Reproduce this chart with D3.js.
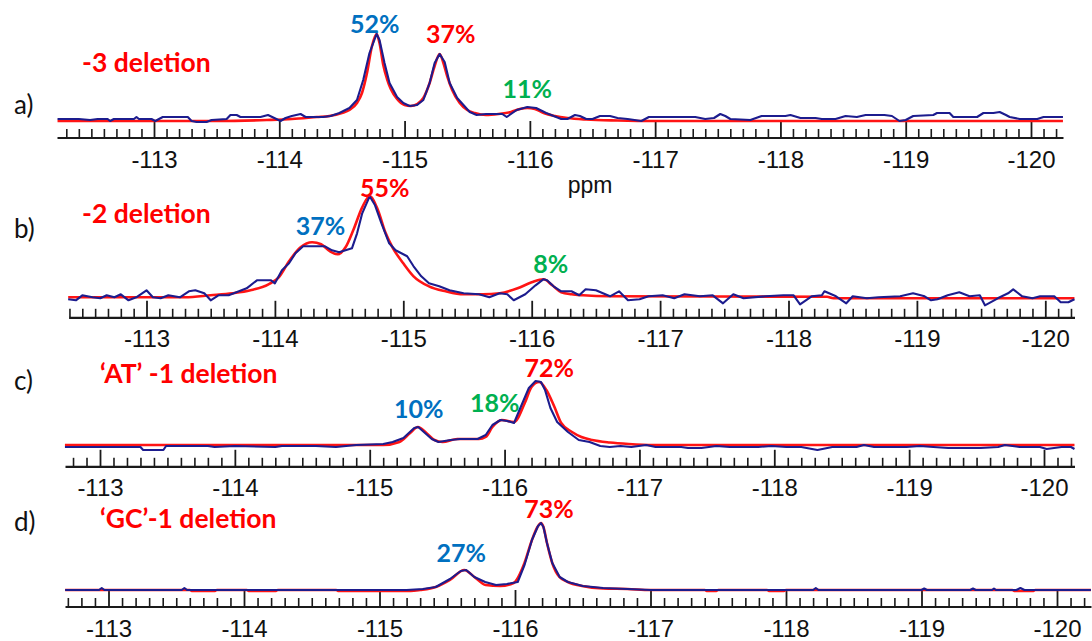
<!DOCTYPE html>
<html>
<head>
<meta charset="utf-8">
<script src="https://cdn.jsdelivr.net/npm/d3@7"></script>
<style>
  html, body { margin: 0; padding: 0; background: #ffffff; }
  svg { display: block; }
</style>
</head>
<body>
<svg id="chart" width="1092" height="641"></svg>
<script>
// ---------- 19F NMR spectra: measured trace (blue) and deconvolution fit (red) ----------
// Each point is [chemical shift in ppm, intensity in arbitrary units above the fit baseline].

const panelLetters = ["a)", "b)", "c)", "d)"];
const panelTitles = ["-3 deletion", "-2 deletion", "\u2018AT\u2019 -1 deletion", "\u2018GC\u2019-1 deletion"];
const ppmLabel = "ppm";

// Component shares (%) and their peak positions (ppm)
const sharesA = [52, 37, 11];
const peaksA = [-114.777, -115.28, -115.98];
const sharesB = [37, 55, 8];
const peaksB = [-114.293, -114.738, -116.093];
const sharesC = [10, 18, 72];
const peaksC = [-115.357, -115.979, -116.257];
const sharesD = [27, 73];
const peaksD = [-115.626, -116.192];

// Tick label values on every ppm axis
const majorTicks = [-113, -114, -115, -116, -117, -118, -119, -120];

// ---- panel a ----
const measuredA = [[-112.23,2],[-112.40,2],[-112.49,1],[-112.55,2],[-112.63,2],[-112.65,0],[-112.68,2],[-112.84,2],[-112.86,4],[-112.88,2],[-112.98,2],[-113.01,0],[-113.04,2],[-113.07,4],[-113.15,4],[-113.27,4],[-113.30,0],[-113.34,-1],[-113.42,-1],[-113.46,1],[-113.58,2],[-113.61,6],[-113.66,6],[-113.69,4],[-113.85,4],[-113.91,6],[-113.96,3],[-114.01,0],[-114.05,3],[-114.10,5],[-114.17,7],[-114.21,4],[-114.35,4],[-114.41,5],[-114.48,8],[-114.56,13],[-114.62,21],[-114.67,41],[-114.72,68],[-114.777,87],[-114.80,81],[-114.84,58],[-114.88,38],[-114.94,24],[-114.99,18],[-115.04,15],[-115.10,16],[-115.15,21],[-115.20,38],[-115.24,58],[-115.28,67],[-115.32,59],[-115.36,38],[-115.42,23],[-115.47,16],[-115.52,9],[-115.575,6],[-115.65,7],[-115.78,7],[-115.815,4],[-115.895,11],[-115.98,14],[-116.05,13],[-116.13,8],[-116.21,4],[-116.25,2],[-116.30,2],[-116.36,6],[-116.40,5],[-116.45,2],[-116.50,2],[-116.56,5],[-116.64,5],[-116.70,3],[-116.78,2],[-116.89,0],[-116.95,4],[-117.06,4],[-117.15,4],[-117.32,4],[-117.40,2],[-117.47,3],[-117.52,7],[-117.56,5],[-117.60,2],[-117.76,1],[-117.85,5],[-118.04,5],[-118.08,6],[-118.16,3],[-118.28,3],[-118.33,2],[-118.44,2],[-118.52,5],[-118.61,4],[-118.68,6],[-118.83,6],[-118.89,5],[-118.95,0],[-119.00,1],[-119.06,5],[-119.22,6],[-119.25,8],[-119.35,8],[-119.38,4],[-119.57,4],[-119.62,8],[-119.70,8],[-119.75,9],[-119.80,6],[-119.83,4],[-119.91,2],[-120.05,2],[-120.10,4],[-120.255,4]];
const fitA = [[-112.23,0],[-113.5,0],[-113.9,1],[-114.1,2],[-114.3,4],[-114.4,5],[-114.5,8],[-114.56,11],[-114.62,18],[-114.66,28],[-114.70,48],[-114.74,75],[-114.777,87],[-114.80,78],[-114.83,56],[-114.86,42],[-114.89,32],[-114.94,22],[-115.00,16],[-115.05,15],[-115.10,17],[-115.15,23],[-115.20,38],[-115.24,55],[-115.28,67],[-115.31,58],[-115.34,45],[-115.38,31],[-115.44,18],[-115.50,11],[-115.56,8],[-115.65,6],[-115.75,7],[-115.85,9],[-115.92,12],[-115.98,13],[-116.04,12],[-116.11,8],[-116.2,5],[-116.3,3],[-116.45,1.5],[-116.7,0.5],[-117,0],[-120.255,0]];

// ---- panel b ----
const measuredB = [[-112.39,-2],[-112.45,-3],[-112.50,2],[-112.58,0],[-112.64,-1],[-112.69,2],[-112.75,0],[-112.80,3],[-112.86,-3],[-112.92,0],[-113.00,7],[-113.05,0],[-113.11,-1],[-113.17,2],[-113.26,0],[-113.33,6],[-113.38,7],[-113.45,4],[-113.50,-3],[-113.56,2],[-113.64,2],[-113.72,6],[-113.78,9],[-113.86,17],[-113.92,17],[-113.97,17],[-114.00,14],[-114.055,27],[-114.11,34],[-114.16,44],[-114.22,51],[-114.30,51],[-114.39,51],[-114.445,47],[-114.50,45],[-114.55,47],[-114.60,49],[-114.64,64],[-114.68,84],[-114.738,101],[-114.78,92],[-114.83,74],[-114.89,54],[-114.94,47],[-115.03,41],[-115.08,31],[-115.14,21],[-115.20,14],[-115.28,11],[-115.36,7],[-115.47,4],[-115.59,3],[-115.67,0],[-115.75,4],[-115.81,3],[-115.86,-3],[-115.95,3],[-116.03,12],[-116.09,18],[-116.12,17],[-116.17,11],[-116.23,6],[-116.31,6],[-116.37,2],[-116.42,8],[-116.50,7],[-116.555,4],[-116.61,1],[-116.68,6],[-116.75,-3],[-116.84,-2],[-116.91,1],[-117.02,2],[-117.11,-1],[-117.19,3],[-117.31,1],[-117.41,2],[-117.49,-6],[-117.57,3],[-117.65,-1],[-117.82,1],[-117.96,2],[-118.04,2],[-118.09,-7],[-118.18,1],[-118.26,2],[-118.28,6],[-118.37,1],[-118.45,-6],[-118.50,1],[-118.61,-1],[-118.70,0],[-118.87,1],[-118.97,4],[-119.06,1],[-119.11,-3],[-119.16,-2],[-119.24,2],[-119.33,5],[-119.41,1],[-119.49,2],[-119.53,-8],[-119.63,-1],[-119.71,4],[-119.75,8],[-119.82,1],[-119.90,-1],[-119.96,1],[-120.07,1],[-120.12,-5],[-120.18,-5],[-120.227,-2]];
const fitB = [[-112.39,0],[-113.3,0],[-113.5,2],[-113.67,4],[-113.81,7],[-113.95,13],[-114.03,20],[-114.11,36],[-114.20,50],[-114.29,55],[-114.36,53],[-114.43,46],[-114.49,43],[-114.55,50],[-114.61,67],[-114.68,90],[-114.738,101],[-114.80,88],[-114.86,65],[-114.92,49],[-115.00,34],[-115.08,21],[-115.20,11],[-115.33,6],[-115.47,3],[-115.62,3],[-115.75,4],[-115.89,9],[-116.00,15],[-116.093,18],[-116.16,12],[-116.23,5],[-116.31,3],[-116.40,2],[-116.6,1],[-118.3,0.5],[-118.35,-1],[-120.227,-1]];

// ---- panel c ----
const measuredC = [[-112.74,-2],[-113.05,-2],[-113.30,-2],[-113.32,-5],[-113.47,-5],[-113.49,-1],[-113.80,-1],[-113.85,-2],[-114.0,-1],[-114.30,-2],[-114.35,-1],[-114.60,-1],[-114.75,-2],[-114.90,0],[-115.10,1],[-115.17,3],[-115.25,7],[-115.33,17],[-115.36,18],[-115.41,12],[-115.46,6],[-115.51,3],[-115.60,5],[-115.67,6],[-115.80,6],[-115.86,10],[-115.91,20],[-115.97,25],[-116.02,24],[-116.07,22],[-116.12,38],[-116.18,57],[-116.23,64],[-116.27,63],[-116.30,55],[-116.34,37],[-116.39,23],[-116.47,13],[-116.55,5],[-116.63,3],[-116.71,-1],[-116.78,-2],[-116.86,-1],[-116.94,-2],[-117.05,0],[-117.12,-2],[-117.31,-2],[-117.36,-3],[-117.46,-3],[-117.57,-1],[-117.67,-2],[-117.78,-2],[-117.88,-2],[-117.98,-1],[-118.09,-2],[-118.20,-2],[-118.32,-5],[-118.43,-2],[-118.61,-2],[-118.665,0],[-118.74,-2],[-118.87,-2],[-118.98,-2],[-119.08,-1],[-119.18,-2],[-119.29,-3],[-119.53,-3],[-119.66,-2],[-119.71,0],[-119.82,-2],[-119.97,-2],[-120.02,-4],[-120.13,-2],[-120.20,-2],[-120.226,-4]];
const fitC = [[-112.74,0],[-115.10,0],[-115.22,3],[-115.30,12],[-115.357,18],[-115.42,12],[-115.48,5],[-115.54,3],[-115.65,6],[-115.81,6],[-115.86,8],[-115.91,18],[-115.979,25],[-116.07,23],[-116.15,42],[-116.20,58],[-116.257,63],[-116.31,55],[-116.37,38],[-116.42,22],[-116.50,13],[-116.57,8],[-116.65,5],[-116.78,2.5],[-116.92,1],[-117.10,0],[-120.226,0]];

// ---- panel d ----
const measuredD = [[-112.68,0],[-112.93,0],[-112.95,2],[-112.97,0],[-113.54,0],[-113.56,2],[-113.58,0],[-115.20,0],[-115.32,1],[-115.415,3],[-115.52,11],[-115.60,19],[-115.64,20],[-115.70,13],[-115.78,8],[-115.86,5],[-115.94,6],[-116.02,8],[-116.07,25],[-116.125,50],[-116.17,64],[-116.192,67],[-116.21,63],[-116.236,47],[-116.275,27],[-116.33,13],[-116.39,8],[-116.50,4],[-116.65,2],[-116.83,1],[-117.0,0],[-118.20,0],[-118.22,2],[-118.24,0],[-119.0,0],[-119.02,1.5],[-119.04,0],[-119.36,0],[-119.38,1.5],[-119.40,0],[-119.52,0],[-119.535,1.5],[-119.55,0],[-119.70,0],[-119.73,2],[-119.76,0],[-120.25,0]];
const fitD = [[-112.68,0],[-113.60,0],[-113.62,-1],[-113.78,-1],[-113.80,0],[-114.02,0],[-114.04,-1],[-114.23,-1],[-114.25,0],[-114.68,0],[-114.70,-1],[-115.23,-1],[-115.30,0],[-115.415,3],[-115.52,10],[-115.626,20],[-115.70,13],[-115.784,5],[-115.89,4],[-115.99,7],[-116.07,27],[-116.125,50],[-116.166,63],[-116.192,67],[-116.21,63],[-116.236,47],[-116.275,27],[-116.328,13],[-116.39,8],[-116.495,4],[-116.65,1.5],[-116.83,1],[-117.0,0],[-117.40,0],[-117.42,-1],[-117.48,-1],[-117.50,0],[-117.86,0],[-117.88,-1],[-117.98,-1],[-118.0,0],[-119.67,0],[-119.69,-1],[-119.82,-1],[-119.84,0],[-120.25,0]];

// ---------- layout ----------
const W = 1092, H = 641;
const COLORS = { fit: "#ff1414", measured: "#1c1c8e", blue: "#0070c0", red: "#ff0000", green: "#00b050", text: "#111111" };
const LABEL_FONT = "Lato, 'Open Sans', sans-serif";
const AXIS_FONT = "'Liberation Sans', Arial, sans-serif";

// x calibration per panel: pixel position of -113 and -120 ppm, axis extent, axis and baseline rows
const panels = [
  { measured: measuredA, fit: fitA, peaks: peaksA, shares: sharesA, colors: [COLORS.blue, COLORS.red, COLORS.green],
    x113: 154, x120: 1031, left: 57, right: 1063, axisY: 137.5, base: 121,
    letterY: 114, titleX: 82, titleY: 71.5,
    labels: [{ dx: -2, y: 33 }, { dx: 11, y: 43 }, { dx: 0, y: 98 }] },
  { measured: measuredB, fit: fitB, peaks: peaksB, shares: sharesB, colors: [COLORS.blue, COLORS.red, COLORS.green],
    x113: 146.5, x120: 1045.3, left: 68.6, right: 1074.5, axisY: 317.3, base: 297.3,
    letterY: 238, titleX: 82, titleY: 223,
    labels: [{ dx: 8, y: 235 }, { dx: 15, y: 196.5 }, { dx: 7, y: 273 }] },
  { measured: measuredC, fit: fitC, peaks: peaksC, shares: sharesC, colors: [COLORS.blue, COLORS.green, COLORS.red],
    x113: 100, x120: 1044, left: 65, right: 1074.5, axisY: 466.3, base: 445,
    letterY: 390, titleX: 100, titleY: 383,
    labels: [{ dx: 1, y: 418 }, { dx: -7, y: 411.5 }, { dx: 10, y: 376.5 }] },
  { measured: measuredD, fit: fitD, peaks: peaksD, shares: sharesD, colors: [COLORS.blue, COLORS.red],
    x113: 108.5, x120: 1057, left: 65, right: 1091, axisY: 606.5, base: 590,
    letterY: 531, titleX: 100, titleY: 528,
    labels: [{ dx: -3, y: 561.5 }, { dx: 8, y: 518 }] }
];

const svg = d3.select("#chart").attr("viewBox", `0 0 ${W} ${H}`);
svg.append("rect").attr("width", W).attr("height", H).attr("fill", "#ffffff");

panels.forEach((p, i) => {
  const g = svg.append("g");

  // ppm scale calibrated on two labelled ticks, then stretched to the axis extent
  const cal = d3.scaleLinear().domain([-113, -120]).range([p.x113, p.x120]);
  const x = d3.scaleLinear().domain([cal.invert(p.left), cal.invert(p.right)]).range([p.left, p.right]);
  const y = d3.scaleLinear().domain([0, 100]).range([p.base, p.base - 100]);

  const [dHi, dLo] = x.domain();
  const minorTicks = d3.range(Math.ceil(dLo * 10), Math.floor(dHi * 10) + 1)
    .filter(k => k % 10 !== 0).map(k => k / 10);
  const majors = majorTicks.filter(v => v <= dHi && v >= dLo);

  // minor ticks every 0.1 ppm
  const minorAxis = d3.axisBottom(x).tickValues(minorTicks).tickSize(-8.5).tickSizeOuter(0).tickFormat("");
  const gMinor = g.append("g").attr("transform", `translate(0,${p.axisY})`).call(minorAxis);
  gMinor.select(".domain").remove();
  gMinor.selectAll(".tick line").attr("stroke", "#1a1a1a").attr("stroke-width", 1.6);

  // major ticks and labels every 1 ppm
  const majorAxis = d3.axisBottom(x).tickValues(majors).tickSize(-16.5).tickSizeOuter(0)
    .tickPadding(13).tickFormat(d => String(d));
  const gMajor = g.append("g").attr("transform", `translate(0,${p.axisY})`).call(majorAxis);
  gMajor.select(".domain").attr("stroke", "#1a1a1a").attr("stroke-width", 2.2);
  gMajor.selectAll(".tick line").attr("stroke", "#1a1a1a").attr("stroke-width", 1.8);
  gMajor.selectAll(".tick text")
    .attr("fill", COLORS.text).attr("font-family", AXIS_FONT).attr("font-size", 24);

  // fit (red) under measured (blue)
  const fitLine = d3.line().x(d => x(d[0])).y(d => y(d[1])).curve(d3.curveMonotoneX);
  const measLine = d3.line().x(d => x(d[0])).y(d => y(d[1])).curve(d3.curveLinear);
  g.append("path").datum(p.fit).attr("d", fitLine)
    .attr("fill", "none").attr("stroke", COLORS.fit).attr("stroke-width", 2.6)
    .attr("stroke-linejoin", "round");
  g.append("path").datum(p.measured).attr("d", measLine)
    .attr("fill", "none").attr("stroke", COLORS.measured).attr("stroke-width", 2.1)
    .attr("stroke-linejoin", "round");

  // panel letter and construct name
  g.append("text").attr("x", 14).attr("y", p.letterY).text(panelLetters[i])
    .attr("font-family", LABEL_FONT).attr("font-size", 26).attr("fill", COLORS.text);
  g.append("text").attr("x", p.titleX).attr("y", p.titleY).text(panelTitles[i])
    .attr("font-family", LABEL_FONT).attr("font-weight", 700).attr("font-size", 26.5).attr("fill", COLORS.red);

  // component share labels above their peaks
  p.shares.forEach((s, k) => {
    g.append("text")
      .attr("x", x(p.peaks[k]) + p.labels[k].dx).attr("y", p.labels[k].y)
      .attr("text-anchor", "middle").text(s + "%")
      .attr("font-family", LABEL_FONT).attr("font-weight", 700).attr("font-size", 25)
      .attr("fill", p.colors[k]);
  });
});

// unit label below the first axis
svg.append("text").attr("x", 590).attr("y", 193).attr("text-anchor", "middle").text(ppmLabel)
  .attr("font-family", AXIS_FONT).attr("font-size", 23).attr("fill", COLORS.text);
</script>
</body>
</html>
